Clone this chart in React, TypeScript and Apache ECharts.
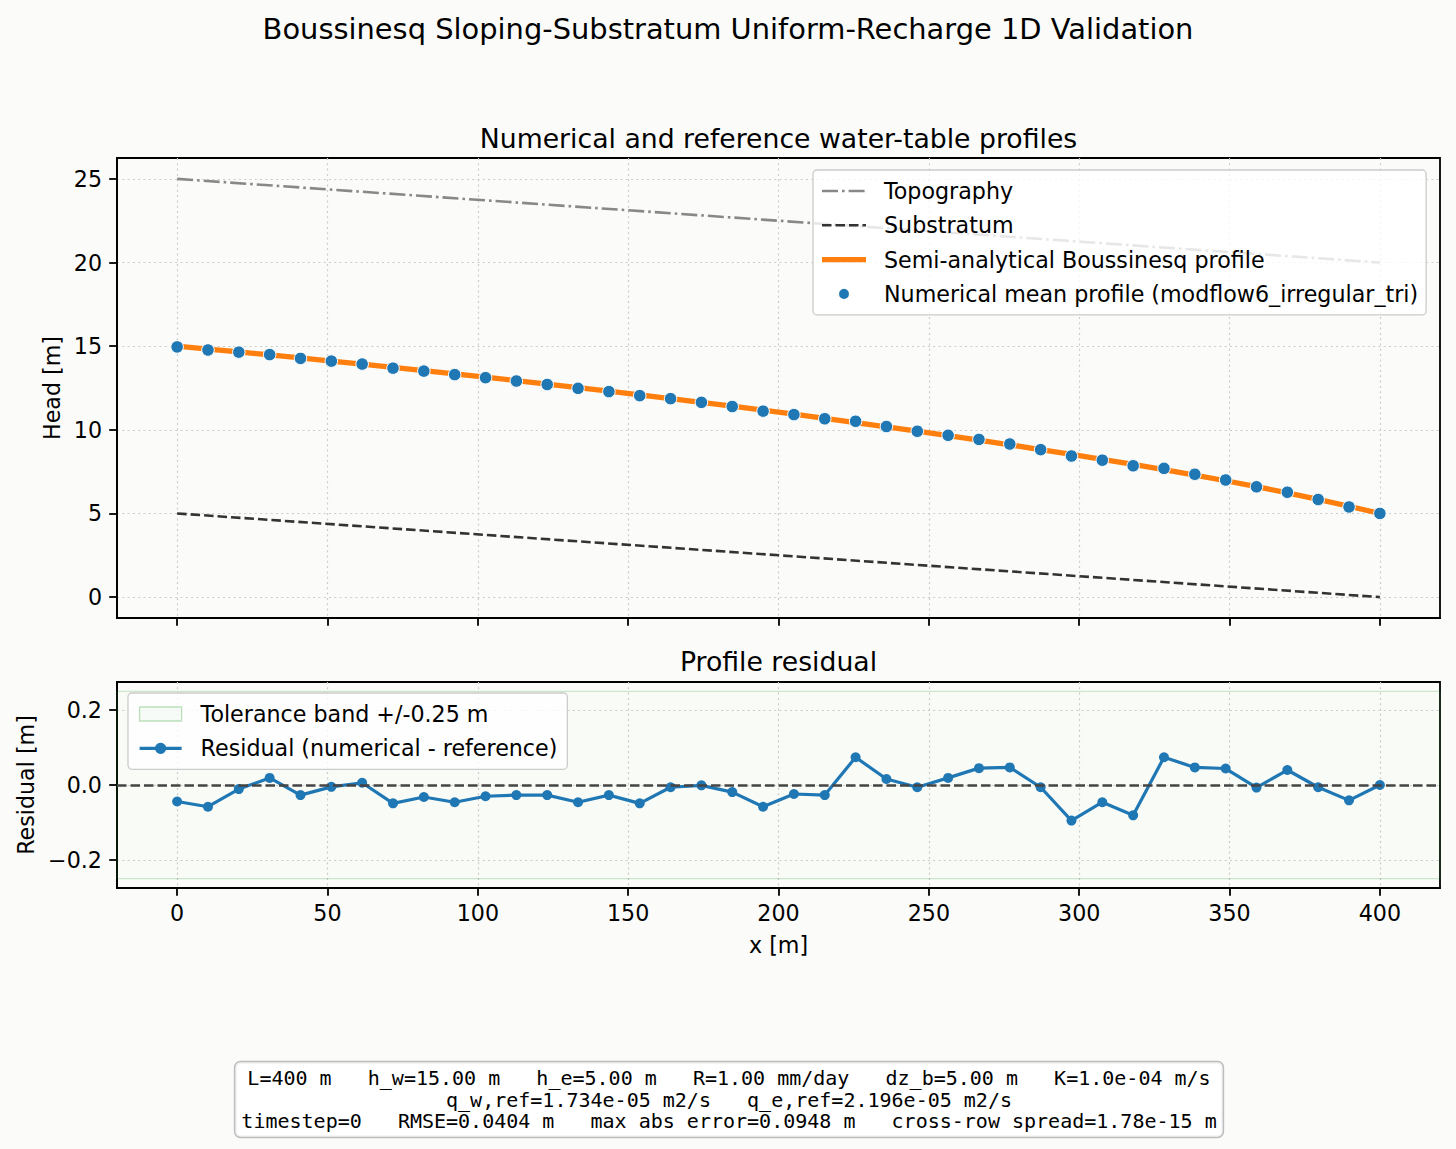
import React, { useEffect, useRef } from "react";
import * as echarts from "echarts";

// Station positions along the profile [m]
const stationX = [
  0, 10.256, 20.513, 30.769, 41.026, 51.282, 61.538, 71.795, 82.051, 92.308,
  102.564, 112.821, 123.077, 133.333, 143.59, 153.846, 164.103, 174.359, 184.615, 194.872,
  205.128, 215.385, 225.641, 235.897, 246.154, 256.41, 266.667, 276.923, 287.179, 297.436,
  307.692, 317.949, 328.205, 338.462, 348.718, 358.974, 369.231, 379.487, 389.744, 400,
];

// Semi-analytical Boussinesq head [m]
const referenceHead = [
  15.0, 14.83, 14.655, 14.477, 14.296, 14.112, 13.925, 13.735, 13.542, 13.346,
  13.147, 12.944, 12.737, 12.526, 12.311, 12.092, 11.869, 11.642, 11.411, 11.175,
  10.934, 10.688, 10.437, 10.181, 9.92, 9.654, 9.382, 9.104, 8.82, 8.529,
  8.231, 7.931, 7.621, 7.296, 6.956, 6.601, 6.229, 5.839, 5.429, 5.0,
];

// Numerical mean head (modflow6_irregular_tri) [m]
const numericalHead = [
  14.956, 14.772, 14.644, 14.496, 14.269, 14.107, 13.931, 13.686, 13.51, 13.3,
  13.117, 12.917, 12.71, 12.48, 12.284, 12.043, 11.863, 11.641, 11.392, 11.117,
  10.91, 10.661, 10.511, 10.197, 9.914, 9.673, 9.427, 9.151, 8.814, 8.434,
  8.185, 7.85, 7.695, 7.343, 7.0, 6.594, 6.269, 5.833, 5.388, 5.0,
];

// Residual numerical - reference [m]
const residual = [
  -0.044, -0.058, -0.011, 0.019, -0.027, -0.005, 0.006, -0.049, -0.032, -0.046,
  -0.03, -0.027, -0.027, -0.046, -0.027, -0.049, -0.006, -0.001, -0.019, -0.058,
  -0.024, -0.027, 0.074, 0.016, -0.006, 0.019, 0.045, 0.047, -0.006, -0.095,
  -0.046, -0.081, 0.074, 0.047, 0.044, -0.007, 0.04, -0.006, -0.041, 0.0,
];

// Domain ends and surfaces
const edgeX = [0, 400];
const topographyZ = [25, 20];
const substratumZ = [5, 0];
const tolerance = 0.25;

// Tick positions
const xTicks = [0, 50, 100, 150, 200, 250, 300, 350, 400];
const headTicks = [0, 5, 10, 15, 20, 25];
const residualTicks = [-0.2, 0, 0.2];

const infoLines = [
  "L=400 m   h_w=15.00 m   h_e=5.00 m   R=1.00 mm/day   dz_b=5.00 m   K=1.0e-04 m/s",
  "q_w,ref=1.734e-05 m2/s   q_e,ref=2.196e-05 m2/s",
  "timestep=0   RMSE=0.0404 m   max abs error=0.0948 m   cross-row spread=1.78e-15 m",
];

const FONT = "DejaVu Sans";
const MONO = "DejaVu Sans Mono";
const BG = "#fbfcf9";
const BLUE = "#1f77b4";
const ORANGE = "#ff7f0e";
const FS = 22.2;

const pair = (xs: number[], ys: number[]) => xs.map((x, i) => [x, ys[i]]);

const topoLine = { color: "#888888", width: 2.6, type: [16, 4, 2.6, 4] };
const subLine = { color: "#333333", width: 2.6, type: [9.5, 4] };
const refLine = { color: ORANGE, width: 5.3 };
const residLine = { color: BLUE, width: 3.2 };

const gridLine = { show: true, lineStyle: { color: "#cccccc", type: [2, 3.3], width: 1.2 } };
const tick = { show: true, inside: false, length: 7.8, lineStyle: { color: "#000", width: 1.8 } };
const spine = { show: true, onZero: false, lineStyle: { color: "#000", width: 1.8 } };
const labelFont = { fontFamily: FONT, fontSize: FS, color: "#000" };

// Upper legend box geometry
const LEG_LEFT = 813;
const LEG_TOP = 170;
const LEG_PAD = 9;
const LEG_ROW = 24;
const LEG_GAP = 10.3;
const HANDLE_W = 44;

// Line handles for the line entries of the upper legend
function legendHandle(row: number, ls: { color: string; width: number; type?: number[] }) {
  const y = LEG_TOP + LEG_PAD + LEG_ROW / 2 + row * (LEG_ROW + LEG_GAP);
  const x0 = LEG_LEFT + LEG_PAD;
  return {
    type: "line",
    z: 100,
    shape: { x1: x0, y1: y, x2: x0 + HANDLE_W, y2: y },
    style: { stroke: ls.color, lineWidth: ls.width, lineDash: ls.type || null },
  };
}

function buildOption() {
  return {
    animation: false,
    backgroundColor: BG,
    textStyle: { fontFamily: FONT },
    grid: [
      { left: 117, top: 158, width: 1323, height: 460, show: true, borderColor: "#000", borderWidth: 1.8, backgroundColor: BG },
      { left: 117, top: 682, width: 1323, height: 206, show: true, borderColor: "#000", borderWidth: 1.8, backgroundColor: BG },
    ],
    xAxis: [
      {
        type: "value", gridIndex: 0, min: -20, max: 420,
        axisLine: spine,
        axisTick: { ...tick, customValues: xTicks },
        axisLabel: { show: false, customValues: xTicks },
        splitLine: gridLine,
      },
      {
        type: "value", gridIndex: 1, min: -20, max: 420,
        name: "x [m]", nameLocation: "middle", nameGap: 46,
        nameTextStyle: labelFont,
        axisLine: spine,
        axisTick: { ...tick, customValues: xTicks },
        axisLabel: { ...labelFont, show: true, margin: 14, customValues: xTicks, formatter: (v: number) => String(v) },
        splitLine: gridLine,
      },
    ],
    yAxis: [
      {
        type: "value", gridIndex: 0, min: -1.25, max: 26.25,
        name: "Head [m]", nameLocation: "middle", nameGap: 54,
        nameTextStyle: labelFont,
        axisLine: spine,
        axisTick: { ...tick, customValues: headTicks },
        axisLabel: { ...labelFont, margin: 15, customValues: headTicks, formatter: (v: number) => String(v) },
        splitLine: gridLine,
      },
      {
        type: "value", gridIndex: 1, min: -0.275, max: 0.275,
        name: "Residual [m]", nameLocation: "middle", nameGap: 80,
        nameTextStyle: labelFont,
        axisLine: spine,
        axisTick: { ...tick, customValues: residualTicks },
        axisLabel: {
          ...labelFont, margin: 15, customValues: residualTicks,
          formatter: (v: number) => (Math.abs(v) < 1e-9 ? "0.0" : (v < 0 ? "\u2212" : "") + Math.abs(v).toFixed(1)),
        },
        splitLine: gridLine,
      },
    ],
    legend: [
      {
        orient: "vertical", left: LEG_LEFT, top: LEG_TOP,
        padding: [LEG_PAD, 8, LEG_PAD, LEG_PAD], itemWidth: HANDLE_W, itemHeight: 12, itemGap: LEG_GAP,
        backgroundColor: "rgba(255,255,255,0.8)", borderColor: "#cccccc", borderWidth: 1.3, borderRadius: 4,
        selectedMode: false,
        textStyle: { fontFamily: FONT, fontSize: FS, color: "#000", lineHeight: LEG_ROW, padding: [0, 0, 0, 13] },
        data: [
          { name: "Topography", icon: "none" },
          { name: "Substratum", icon: "none" },
          { name: "Semi-analytical Boussinesq profile", icon: "none" },
          { name: "Numerical mean profile (modflow6_irregular_tri)", icon: "circle" },
        ],
      },
      {
        orient: "vertical", left: 128, top: 693,
        padding: [9, 10, 9, 10], itemWidth: 42, itemHeight: 14, itemGap: LEG_GAP,
        backgroundColor: "rgba(255,255,255,0.8)", borderColor: "#cccccc", borderWidth: 1.3, borderRadius: 4,
        selectedMode: false, symbolKeepAspect: false,
        textStyle: { fontFamily: FONT, fontSize: FS, color: "#000", lineHeight: LEG_ROW, padding: [0, 0, 0, 14] },
        data: [
          {
            name: "Tolerance band +/-0.25 m", icon: "rect",
            itemStyle: { color: "rgba(44,160,44,0.03)", borderColor: "rgba(44,160,44,0.3)", borderWidth: 1.3 },
          },
          { name: "Residual (numerical - reference)", lineStyle: residLine },
        ],
      },
    ],
    series: [
      {
        name: "Topography", type: "line", xAxisIndex: 0, yAxisIndex: 0,
        data: pair(edgeX, topographyZ), symbol: "none",
        itemStyle: { color: "#888888" },
        lineStyle: topoLine,
        z: 2,
      },
      {
        name: "Substratum", type: "line", xAxisIndex: 0, yAxisIndex: 0,
        data: pair(edgeX, substratumZ), symbol: "none",
        itemStyle: { color: "#333333" },
        lineStyle: subLine,
        z: 2,
      },
      {
        name: "Semi-analytical Boussinesq profile", type: "line", xAxisIndex: 0, yAxisIndex: 0,
        data: pair(stationX, referenceHead), symbol: "none",
        itemStyle: { color: ORANGE },
        lineStyle: refLine,
        z: 3,
      },
      {
        name: "Numerical mean profile (modflow6_irregular_tri)", type: "scatter", xAxisIndex: 0, yAxisIndex: 0,
        data: pair(stationX, numericalHead), symbol: "circle", symbolSize: 12.5,
        itemStyle: { color: BLUE, borderColor: "#ffffff", borderWidth: 1, opacity: 1 },
        z: 4,
      },
      {
        name: "Tolerance band +/-0.25 m", type: "line", xAxisIndex: 1, yAxisIndex: 1,
        data: [], symbol: "none",
        itemStyle: { color: "rgba(44,160,44,0.3)" },
        markArea: {
          silent: true,
          itemStyle: { color: "rgba(44,160,44,0.01)", borderColor: "rgba(44,160,44,0.22)", borderWidth: 1.3 },
          data: [[{ yAxis: -tolerance }, { yAxis: tolerance }]],
        },
        z: 1,
      },
      {
        name: "Residual (numerical - reference)", type: "line", xAxisIndex: 1, yAxisIndex: 1,
        data: pair(stationX, residual), symbol: "circle", symbolSize: 10, showSymbol: true,
        itemStyle: { color: BLUE },
        lineStyle: residLine,
        markLine: {
          silent: true, symbol: ["none", "none"], label: { show: false },
          lineStyle: { color: "#444444", type: [9.5, 4], width: 2.6 },
          data: [{ yAxis: 0 }],
        },
        z: 3,
      },
    ],
    graphic: [
      legendHandle(0, topoLine),
      legendHandle(1, subLine),
      legendHandle(2, refLine),
      {
        type: "text", x: 728, y: 29,
        style: { text: "Boussinesq Sloping-Substratum Uniform-Recharge 1D Validation", fontFamily: FONT, fontSize: 28.9, fill: "#000", align: "center", verticalAlign: "middle" },
      },
      {
        type: "text", x: 778.5, y: 138,
        style: { text: "Numerical and reference water-table profiles", fontFamily: FONT, fontSize: 26.7, fill: "#000", align: "center", verticalAlign: "middle" },
      },
      {
        type: "text", x: 778.5, y: 661,
        style: { text: "Profile residual", fontFamily: FONT, fontSize: 26.7, fill: "#000", align: "center", verticalAlign: "middle" },
      },
      {
        type: "text", x: 729, y: 1099.5,
        style: {
          text: infoLines.join("\n"), fontFamily: MONO, fontSize: 20, lineHeight: 21.5, fill: "#000",
          align: "center", verticalAlign: "middle",
          backgroundColor: "rgba(255,255,255,0.8)", borderColor: "#bdbdbd", borderWidth: 1.5, borderRadius: 5,
          padding: [5, 6],
        },
      },
    ],
  };
}

export default function App() {
  const ref = useRef<HTMLDivElement | null>(null);
  useEffect(() => {
    if (!ref.current) return;
    const chart = echarts.init(ref.current, undefined, { renderer: "svg" });
    chart.setOption(buildOption() as any);
    return () => chart.dispose();
  }, []);
  return (
    <div
      ref={ref}
      style={{ position: "fixed", left: 0, top: 0, width: 1456, height: 1149, background: BG }}
    />
  );
}
